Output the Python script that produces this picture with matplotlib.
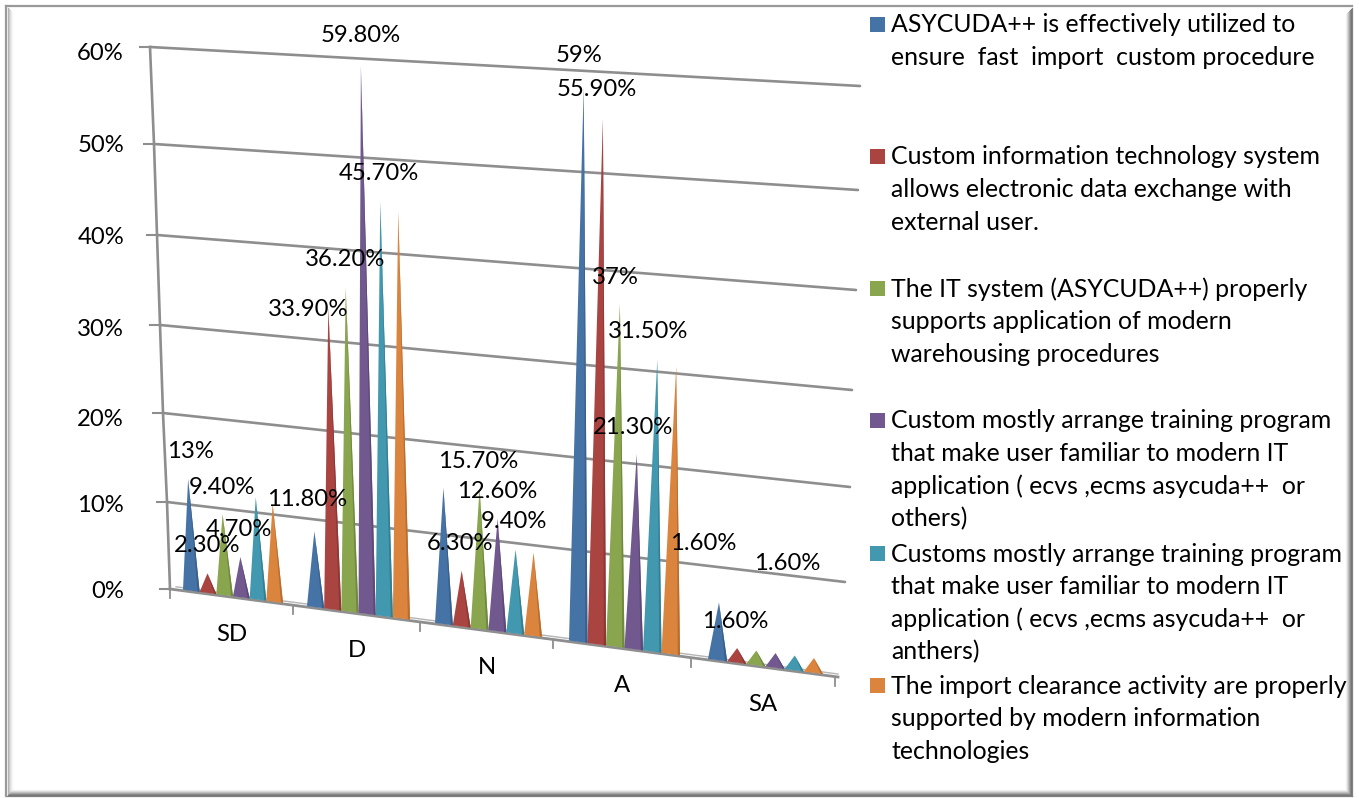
"""
3D-style cone chart of the customs IT survey answers (SD, D, N, A, SA).
Drawn on one pixel-sized axes with a small perspective projection.
"""
import numpy as np
import matplotlib
matplotlib.use("Agg")
import matplotlib.pyplot as plt
from matplotlib.patches import Polygon, Rectangle

plt.rcParams["font.family"] = ["Lato", "DejaVu Sans"]

categories = ["SD", "D", "N", "A", "SA"]
series_colors = ["#4673A6", "#AA4441", "#89A54E", "#71588F", "#4198AF", "#DB843D"]
series_shades = ["#3A5F8A", "#8C3836", "#718840", "#5D4976", "#357D91", "#B56D32"]

asycuda_fast = [13.0, 8.7, 15.3, 59.0, 6.3]
electronic_exchange = [2.3, 33.9, 6.3, 55.9, 1.6]
warehousing = [9.4, 36.2, 15.7, 37.0, 1.6]
training_custom = [4.7, 59.8, 12.6, 21.3, 1.6]
training_customs = [11.8, 45.7, 9.4, 31.5, 1.6]
import_clearance = [11.3, 44.8, 9.3, 31.0, 1.6]
values = [asycuda_fast, electronic_exchange, warehousing,
          training_custom, training_customs, import_clearance]

y_ticks = [0, 10, 20, 30, 40, 50, 60]
y_tick_labels = ["0%", "10%", "20%", "30%", "40%", "50%", "60%"]

legend_entries = [
    ["ASYCUDA++ is effectively utilized to",
     "ensure  fast  import  custom procedure"],
    ["Custom information technology system",
     "allows electronic data exchange with",
     "external user."],
    ["The IT system (ASYCUDA++) properly",
     "supports application of modern",
     "warehousing procedures"],
    ["Custom mostly arrange training program",
     "that make user familiar to modern IT",
     "application ( ecvs ,ecms asycuda++  or",
     "others)"],
    ["Customs mostly arrange training program",
     "that make user familiar to modern IT",
     "application ( ecvs ,ecms asycuda++  or",
     "anthers)"],
    ["The import clearance activity are properly",
     "supported by modern information",
     "technologies"],
]

# wall geometry in pixels
left_wall_x = [170, 167, 163, 160, 157, 154, 150]
left_wall_y = [589, 502, 413, 325, 235, 144, 47]
right_wall_x = [838, 845, 850, 852, 856, 858, 860]
right_wall_y = [677, 582, 487, 390, 290, 190, 86]
tick_label_y = [590, 504, 418, 328, 236, 145, 52]

# floor geometry in pixels
tick_x = [170, 293, 420, 553, 691, 835]
group_left = [183, 307, 435, 569, 708]
group_right = [283, 410, 542, 680, 823]

# (category, series, label x, label y)
label_spots = [
    (0, 0, 190, 451), (0, 1, 207, 545), (0, 2, 222, 487), (0, 3, 239, 528),
    (0, 4, 307, 499),
    (1, 1, 308, 308), (1, 2, 345, 259), (1, 3, 361, 35), (1, 4, 379, 173),
    (2, 1, 460, 542), (2, 2, 478, 460), (2, 3, 497, 490), (2, 4, 514, 520),
    (3, 0, 579, 55), (3, 1, 597, 88), (3, 2, 615, 276), (3, 3, 633, 426),
    (3, 4, 648, 331),
    (4, 1, 735, 620), (4, 2, 703, 543), (4, 3, 787, 563),
]

legend_first_y = [24, 156, 288, 420, 553, 685]
line_step = 32.6
TEXT_SIZE = 17.2
LEGEND_SIZE = 17.9


def floor_y(x):
    return 589 + (x - 170) * (677 - 589) / (838 - 170)


def cone_height(x, v):
    # bars get a little taller to the right and towards the top
    return (8.5 + (x - 190) * 0.0011) * v * (1 + 0.0009 * v)


def cone_lean(x, h):
    # verticals fan out around the middle of the floor
    return (x - 480) * 0.0001 * h


def draw_cone(ax, x0, x1, v, color, shade):
    xc = (x0 + x1) / 2
    yc = floor_y(xc) - 1
    h = cone_height(xc, v)
    tip = (xc + cone_lean(xc, h), yc - h)
    ax.add_patch(Polygon([(x0, floor_y(x0) - 1), (x1, floor_y(x1) - 1), tip],
                         closed=True, fc=color, ec="none", zorder=3))
    # darker sliver down the right side
    x2 = x1 - (x1 - x0) * 0.12
    ax.add_patch(Polygon([(x2, floor_y(x2) - 1), (x1, floor_y(x1) - 1), tip],
                         closed=True, fc=shade, ec="none", zorder=3))
    return tip


def percent_text(v):
    if float(v).is_integer():
        return f"{v:.0f}%"
    return f"{v:.2f}%"


def draw_frame(ax):
    # bevelled picture frame
    ax.plot([6, 1352], [6, 6], color="#999999", lw=1.6, zorder=1)
    ax.plot([6, 6], [6, 796], color="#999999", lw=1.6, zorder=1)
    for i, g in enumerate(["#B0B0B0", "#C8C8C8", "#DCDCDC", "#ECECEC", "#F6F6F6"]):
        ax.plot([7.5 + i] * 2, [8 + i, 794 - i], color=g, lw=0.9, zorder=1)
    for i, g in enumerate(["#F2F2F2", "#DDDDDD", "#C4C4C4", "#A8A8A8", "#8C8C8C", "#757575", "#808080"]):
        ax.plot([1346 + i] * 2, [14 - i, 790 + i], color=g, lw=0.9, zorder=1)
        ax.plot([12 - i * 0.8, 1346 + i], [790 + i] * 2, color=g, lw=0.9, zorder=1)


fig = plt.figure(figsize=(13.59, 7.98), dpi=100)
ax = fig.add_axes([0, 0, 1, 1])
ax.set_xlim(0, 1359)
ax.set_ylim(798, 0)
ax.axis("off")

draw_frame(ax)

# back wall grid lines, left wall and its ticks
grid_color = "#8E8E8E"
for i in range(1, len(y_ticks)):
    ax.plot([left_wall_x[i], right_wall_x[i]], [left_wall_y[i], right_wall_y[i]],
            color=grid_color, lw=1.9, zorder=2, solid_capstyle="round")
ax.plot(left_wall_x, left_wall_y, color=grid_color, lw=1.9, zorder=2)
for i, lab in enumerate(y_tick_labels):
    ax.plot([left_wall_x[i] - 10, left_wall_x[i]], [left_wall_y[i]] * 2,
            color=grid_color, lw=1.5, zorder=2)
    ax.text(124, tick_label_y[i] + 1, lab, ha="right", va="center",
            fontsize=TEXT_SIZE, color="black", zorder=5)

# floor: thin slab along the category axis
ax.plot([tick_x[0], 838], [floor_y(170), floor_y(838)], color=grid_color, lw=2.0, zorder=2)
ax.plot([176, 838], [floor_y(176) - 3, floor_y(838) - 3], color="#B4B4B4", lw=1.0, zorder=2)
for x in tick_x:
    ax.plot([x, x], [floor_y(x), floor_y(x) + 9], color=grid_color, lw=1.3, zorder=2)

# cones
tips = {}
for c, name in enumerate(categories):
    step = (group_right[c] - group_left[c]) / len(values)
    for s, row in enumerate(values):
        x0 = group_left[c] + s * step
        tips[(c, s)] = draw_cone(ax, x0, x0 + step, row[c], series_colors[s], series_shades[s])
    xc = (tick_x[c] + tick_x[c + 1]) / 2
    ax.text(xc, floor_y(xc) + 37, name, ha="center", va="center",
            fontsize=TEXT_SIZE, color="black", zorder=5)

# data labels
for c, s, lx, ly in label_spots:
    ax.text(lx, ly + 1, percent_text(values[s][c]), ha="center", va="center",
            fontsize=TEXT_SIZE, color="black", zorder=6)

# legend
for s, lines in enumerate(legend_entries):
    y0 = legend_first_y[s]
    ax.add_patch(Rectangle((869.5, y0 - 7.5), 15, 15, fc=series_colors[s], ec="none", zorder=4))
    for i, line in enumerate(lines):
        ax.text(891, y0 + i * line_step + 1, line, ha="left", va="center",
                fontsize=LEGEND_SIZE, color="black", zorder=5)

fig.savefig("out.png", dpi=100)
